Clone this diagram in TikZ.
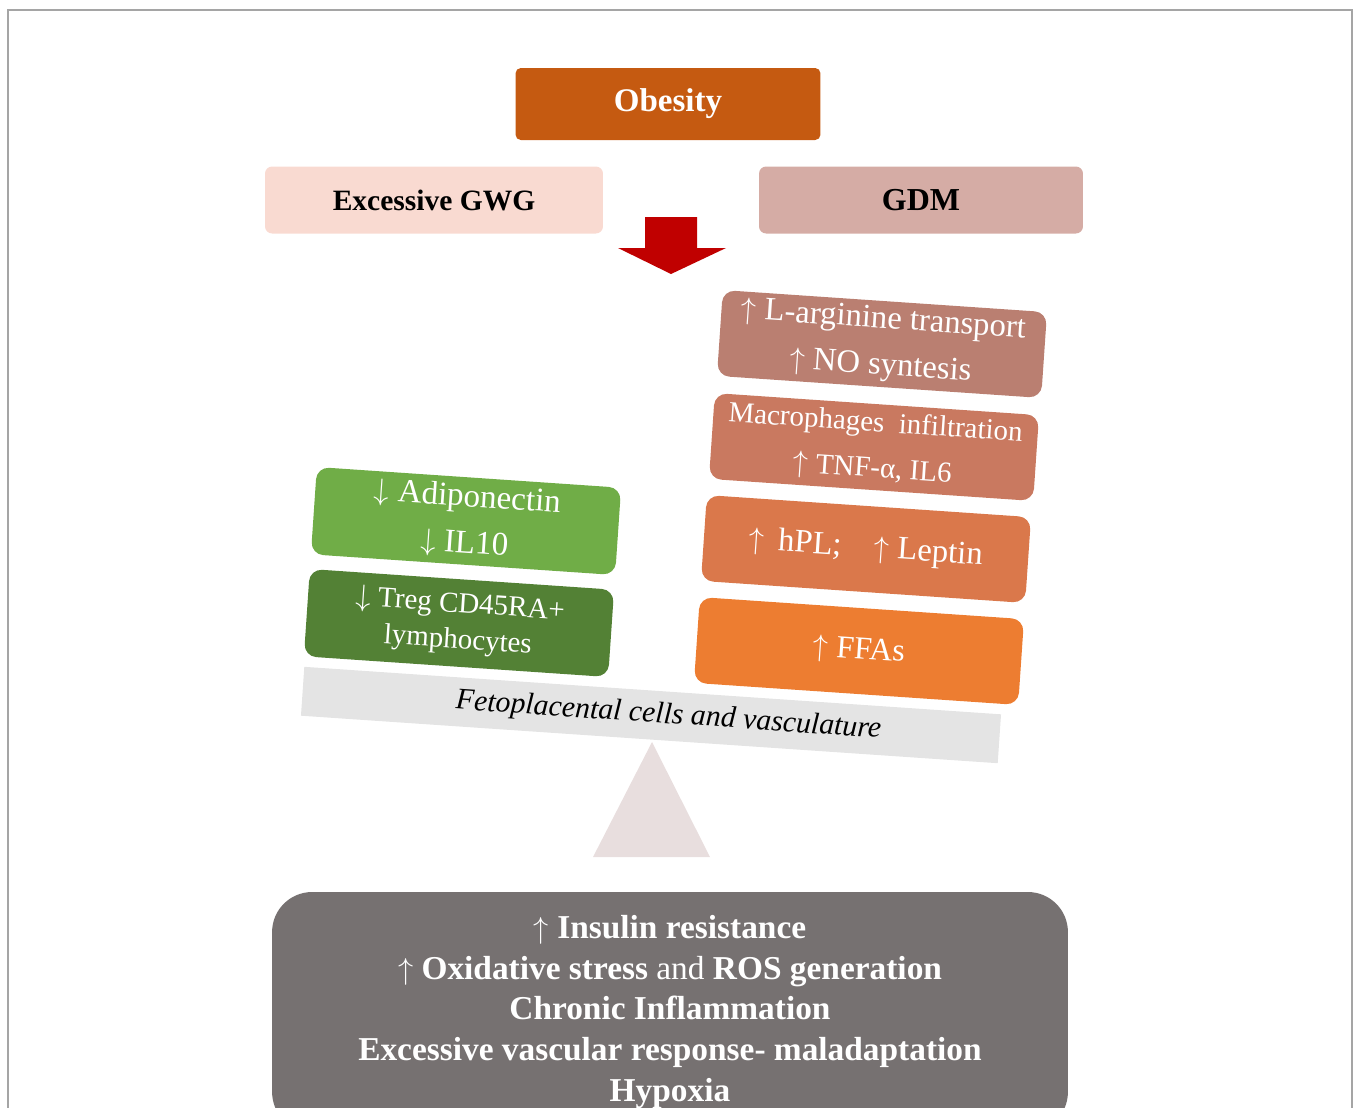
\documentclass[tikz,border=0pt]{standalone}
\usepackage{fontspec}
\setmainfont{Liberation Serif}
\usetikzlibrary{positioning,calc}
\definecolor{obesecolor}{RGB}{197,90,17}
\definecolor{gwgcolor}{RGB}{249,218,209}
\definecolor{gdmcolor}{RGB}{213,172,165}
\definecolor{downcolor}{RGB}{192,0,0}
\definecolor{argcolor}{RGB}{186,127,113}
\definecolor{maccolor}{RGB}{201,121,96}
\definecolor{hplcolor}{RGB}{218,120,75}
\definecolor{ffacolor}{RGB}{237,125,49}
\definecolor{adipocolor}{RGB}{112,173,71}
\definecolor{tregcolor}{RGB}{83,129,53}
\definecolor{beamcolor}{RGB}{228,228,228}
\definecolor{pivotcolor}{RGB}{232,222,222}
\definecolor{outcomecolor}{RGB}{118,113,113}
\definecolor{framecolor}{RGB}{165,165,165}
\newcommand{\arrup}{$\uparrow$}
\newcommand{\arrdn}{$\downarrow$}

\begin{document}
\begin{tikzpicture}[
    x=0.02cm, y=-0.02cm,
    box/.style={rectangle, align=center, inner sep=0pt, text=white},
    headbox/.style={box, rounded corners=3pt, fill=obesecolor, minimum width=6.1cm, minimum height=1.44cm, font=\fontsize{18.8}{22}\selectfont\bfseries},
    cause/.style={box, rounded corners=4pt, text=black, minimum height=1.34cm, font=\fontsize{16.8}{21}\selectfont\bfseries},
    weight/.style={box, rounded corners=7pt, rotate=-3.9, minimum width=6.5cm, minimum height=1.72cm, font=\fontsize{18.6}{26.5}\selectfont},
    counter/.style={box, rounded corners=7pt, rotate=-3.9, minimum width=6.1cm, minimum height=1.75cm, font=\fontsize{18.8}{26.5}\selectfont},
    beam/.style={box, rotate=-3.9, fill=beamcolor, text=black, minimum width=13.97cm, minimum height=0.98cm, font=\fontsize{17}{20}\selectfont\itshape},
    outcome/.style={box, rounded corners=0.8cm, fill=outcomecolor, minimum width=15.92cm, minimum height=4.8cm, font=\fontsize{19}{23.3}\selectfont\bfseries}
]
\useasboundingbox (0,0) rectangle (1356,1107);

% ===== FRAME =====
\draw[framecolor, line width=0.8pt] (8,1120) |- (1352,10) -- (1352,1120);

% ===== RISK FACTORS =====
\node[headbox] (obesity) at (668,104) {Obesity};
\node[cause, fill=gwgcolor, minimum width=6.76cm] (gwg) at (434,200) {Excessive GWG};
\node[cause, fill=gdmcolor, minimum width=6.48cm, font=\fontsize{18.2}{21}\selectfont\bfseries] (gdm) at (921,200) {GDM};

% big down arrow
\fill[downcolor] (645,217) -- (697,217) -- (697,248) -- (726,248) -- (671,274) -- (618,248) -- (645,248) -- cycle;

% ===== RIGHT PAN (UP) =====
\node[weight, fill=argcolor] (arg) at (882,344) {\arrup{} L-arginine transport\\\arrup{} NO syntesis};
\node[weight, fill=maccolor, font=\fontsize{16.5}{26}\selectfont] (mac) at (874,447) {Macrophages\ \ infiltration\\\arrup{} TNF-α, IL6};
\node[weight, fill=hplcolor] (hpl) at (866,549) {\arrup{} \,hPL;\quad \arrup{} Leptin};
\node[weight, fill=ffacolor, font=\fontsize{18.2}{22}\selectfont] (ffa) at (859,651) {\arrup{} FFAs};

% ===== LEFT PAN (DOWN) =====
\node[counter, fill=adipocolor] (adipo) at (466,521) {\arrdn{} Adiponectin\\\arrdn{} IL10};
\node[counter, fill=tregcolor, font=\fontsize{16.5}{20.5}\selectfont] (treg) at (459,623) {\arrdn{} Treg CD45RA+\\lymphocytes};

% ===== BALANCE =====
\node[beam] (bar) at (651,715) {\hspace*{0.7cm}Fetoplacental cells and vasculature};
\fill[pivotcolor] (652,742) -- (710,857) -- (593,857) -- cycle;

% ===== OUTCOMES =====
\node[outcome] (effects) at (670,1012) {\arrup{} Insulin resistance\\\arrup{} Oxidative stress {\mdseries and} ROS generation\\Chronic Inflammation\\Excessive vascular response- maladaptation\\Hypoxia};

\end{tikzpicture}
\end{document}
